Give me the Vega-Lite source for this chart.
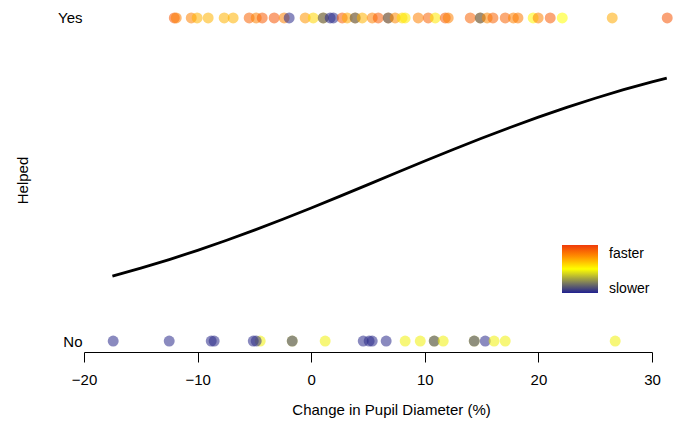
{
  "$schema": "https://vega.github.io/schema/vega-lite/v6.json",
  "width": 568,
  "height": 347,
  "autosize": {"type": "none"},
  "padding": {"left": 84, "top": 5, "right": 26, "bottom": 77},
  "background": "white",
  "config": {
    "view": {"stroke": null},
    "font": "Liberation Sans",
    "axis": {"labelFont": "Liberation Sans", "titleFont": "Liberation Sans", "labelColor": "black", "titleColor": "black", "titleFontWeight": "normal", "labelFontSize": 15, "titleFontSize": 15, "grid": false}
  },
  "datasets": {
    "curve": [
      {"x": -17.5, "y": 0.2010}, {"x": -15, "y": 0.2256}, {"x": -12.5, "y": 0.2521}, {"x": -10, "y": 0.2807},
      {"x": -7.5, "y": 0.3111}, {"x": -5, "y": 0.3433}, {"x": -2.5, "y": 0.3770}, {"x": 0, "y": 0.4119},
      {"x": 2.5, "y": 0.4478}, {"x": 5, "y": 0.4841}, {"x": 7.5, "y": 0.5207}, {"x": 10, "y": 0.5570},
      {"x": 12.5, "y": 0.5927}, {"x": 15, "y": 0.6275}, {"x": 17.5, "y": 0.6610}, {"x": 20, "y": 0.6930},
      {"x": 22.5, "y": 0.7232}, {"x": 25, "y": 0.7515}, {"x": 27.5, "y": 0.7778}, {"x": 30, "y": 0.8021},
      {"x": 31.3, "y": 0.8138}
    ],
    "pts": [
      {"x": -12.05, "y": 1, "speed": 0.92}, {"x": -11.88, "y": 1, "speed": 0.8}, {"x": -10.56, "y": 1, "speed": 0.8},
      {"x": -10.04, "y": 1, "speed": 0.68}, {"x": -9.07, "y": 1, "speed": 0.68}, {"x": -7.66, "y": 1, "speed": 0.68},
      {"x": -6.87, "y": 1, "speed": 0.68}, {"x": -5.46, "y": 1, "speed": 0.88}, {"x": -4.84, "y": 1, "speed": 0.8},
      {"x": -4.31, "y": 1, "speed": 0.9}, {"x": -3.26, "y": 1, "speed": 0.92}, {"x": -2.38, "y": 1, "speed": 0.8},
      {"x": -1.94, "y": 1, "speed": 0.02}, {"x": -0.53, "y": 1, "speed": 0.75}, {"x": 0.18, "y": 1, "speed": 0.6},
      {"x": 1.06, "y": 1, "speed": 0.6}, {"x": 1.06, "y": 1, "speed": 0.1}, {"x": 1.67, "y": 1, "speed": 0.02},
      {"x": 1.95, "y": 1, "speed": 0.03}, {"x": 2.73, "y": 1, "speed": 0.9}, {"x": 3.17, "y": 1, "speed": 0.7},
      {"x": 3.87, "y": 1, "speed": 0.65}, {"x": 3.87, "y": 1, "speed": 0.1}, {"x": 4.49, "y": 1, "speed": 0.68},
      {"x": 5.37, "y": 1, "speed": 0.8}, {"x": 5.9, "y": 1, "speed": 0.9}, {"x": 6.78, "y": 1, "speed": 0.7},
      {"x": 6.78, "y": 1, "speed": 0.1}, {"x": 7.39, "y": 1, "speed": 0.78}, {"x": 8.0, "y": 1, "speed": 0.58},
      {"x": 8.27, "y": 1, "speed": 0.55}, {"x": 9.42, "y": 1, "speed": 0.8}, {"x": 10.3, "y": 1, "speed": 0.88},
      {"x": 10.92, "y": 1, "speed": 0.55}, {"x": 11.8, "y": 1, "speed": 0.9}, {"x": 12.06, "y": 1, "speed": 0.8},
      {"x": 14.0, "y": 1, "speed": 0.88}, {"x": 14.88, "y": 1, "speed": 0.65}, {"x": 14.88, "y": 1, "speed": 0.1},
      {"x": 15.49, "y": 1, "speed": 0.78}, {"x": 16.0, "y": 1, "speed": 0.88}, {"x": 17.08, "y": 1, "speed": 0.88},
      {"x": 17.8, "y": 1, "speed": 0.8}, {"x": 18.2, "y": 1, "speed": 0.82}, {"x": 19.54, "y": 1, "speed": 0.52},
      {"x": 19.98, "y": 1, "speed": 0.8}, {"x": 21.04, "y": 1, "speed": 0.9}, {"x": 22.1, "y": 1, "speed": 0.5},
      {"x": 26.5, "y": 1, "speed": 0.7}, {"x": 31.34, "y": 1, "speed": 0.92},
      {"x": -17.43, "y": 0, "speed": 0.02}, {"x": -12.5, "y": 0, "speed": 0.02}, {"x": -8.8, "y": 0, "speed": 0.02},
      {"x": -8.54, "y": 0, "speed": 0.03}, {"x": -4.49, "y": 0, "speed": 0.47}, {"x": -5.1, "y": 0, "speed": 0.02},
      {"x": -4.84, "y": 0, "speed": 0.04}, {"x": -1.67, "y": 0, "speed": 0.47}, {"x": -1.67, "y": 0, "speed": 0.06},
      {"x": 1.23, "y": 0, "speed": 0.47}, {"x": 4.58, "y": 0, "speed": 0.02}, {"x": 5.1, "y": 0, "speed": 0.03},
      {"x": 5.37, "y": 0, "speed": 0.02}, {"x": 6.6, "y": 0, "speed": 0.02}, {"x": 8.27, "y": 0, "speed": 0.47},
      {"x": 9.6, "y": 0, "speed": 0.47}, {"x": 10.83, "y": 0, "speed": 0.47}, {"x": 10.83, "y": 0, "speed": 0.06},
      {"x": 11.62, "y": 0, "speed": 0.47}, {"x": 14.35, "y": 0, "speed": 0.47}, {"x": 14.35, "y": 0, "speed": 0.06},
      {"x": 15.32, "y": 0, "speed": 0.02}, {"x": 16.1, "y": 0, "speed": 0.47}, {"x": 17.08, "y": 0, "speed": 0.47},
      {"x": 26.76, "y": 0, "speed": 0.47}
    ]
  },
  "encoding": {
    "x": {
      "field": "x", "type": "quantitative",
      "scale": {"domain": [-20, 30], "nice": false, "zero": false},
      "axis": {"title": "Change in Pupil Diameter (%)", "values": [-20, -10, 0, 10, 20, 30], "domainColor": "black", "tickColor": "black", "tickSize": 10, "labelPadding": 10, "titlePadding": 15, "labelFlush": false, "titleX": 307}
    },
    "y": {
      "field": "y", "type": "quantitative",
      "scale": {"domain": [-0.034, 1.04], "nice": false, "zero": false},
      "axis": {"title": "Helped", "values": [0, 1], "labelExpr": "datum.value == 1 ? 'Yes' : 'No'", "domain": false, "ticks": false, "labelPadding": 2, "titleX": -62, "titleY": 175, "titleAlign": "center", "titleBaseline": "middle"}
    }
  },
  "layer": [
    {
      "data": {"name": "curve"},
      "mark": {"type": "line", "color": "black", "strokeWidth": 2.8},
      "encoding": {}
    },
    {
      "data": {"name": "pts"},
      "mark": {"type": "circle", "size": 120, "fillOpacity": 0.55},
      "encoding": {
        "color": {
          "field": "speed", "type": "quantitative",
          "scale": {"domain": [0, 0.22, 0.5, 0.78, 1], "range": ["#202090", "#80805a", "#ffff00", "#ff8800", "#f03a0a"], "interpolate": "rgb"},
          "legend": {"orient": "none", "direction": "vertical", "legendX": 478, "legendY": 240, "gradientLength": 48, "gradientThickness": 36, "title": null, "values": [0.08, 0.82], "labelExpr": "datum.value > 0.5 ? 'faster' : 'slower'", "labelFontSize": 14, "labelOffset": 11, "gradientStrokeWidth": 0, "labelFont": "Liberation Sans", "labelColor": "black"}
        }
      }
    }
  ]
}
